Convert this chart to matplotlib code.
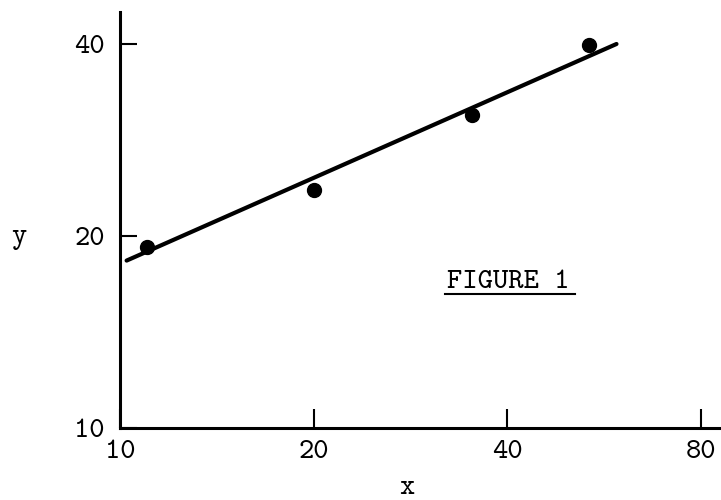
import numpy as np
import matplotlib.pyplot as plt
from matplotlib.ticker import FixedLocator, FixedFormatter, NullLocator
from matplotlib.lines import Line2D

# measured points
x_data = [11.0, 20.0, 35.3, 53.6]
y_data = [19.2, 23.6, 31.0, 39.8]

# fitted straight line (ends)
fit_x = [10.24, 59.1]
fit_y = [18.29, 40.0]

x_ticks = [10, 20, 40, 80]
y_ticks = [10, 20, 40]

# typewriter look
plt.rcParams['font.family'] = ['cmtt10', 'DejaVu Sans Mono']
plt.rcParams['axes.unicode_minus'] = False

fig = plt.figure(figsize=(7.21, 5.0), dpi=100)
ax = fig.add_axes([0.1664, 0.1446, 0.8336, 0.8314])

ax.plot(fit_x, fit_y, color='black', lw=3, solid_capstyle='round')
ax.plot(x_data, y_data, 'o', color='black', ms=10)

ax.set_xscale('log')
ax.set_yscale('log')
ax.set_xlim(10, 85.9)
ax.set_ylim(10, 44.9)

ax.xaxis.set_major_locator(FixedLocator(x_ticks))
ax.xaxis.set_major_formatter(FixedFormatter([str(t) for t in x_ticks]))
ax.xaxis.set_minor_locator(NullLocator())
ax.yaxis.set_major_locator(FixedLocator(y_ticks))
ax.yaxis.set_major_formatter(FixedFormatter([str(t) for t in y_ticks]))
ax.yaxis.set_minor_locator(NullLocator())

for s in ['top', 'right']:
    ax.spines[s].set_visible(False)
for s in ['left', 'bottom']:
    ax.spines[s].set_linewidth(2.2)

ax.tick_params(axis='x', direction='in', length=13.5, width=1.5, pad=9, labelsize=21)
ax.tick_params(axis='y', direction='in', length=12, width=1.5, pad=11, labelsize=21)

fig.text(407 / 721, 1 - 494 / 500, 'x', fontsize=21, fontweight='bold', ha='center', va='baseline')
fig.text(19 / 721, 1 - 238 / 500, 'y', fontsize=21, ha='center', va='center')

fig.text(508 / 721, 1 - 288 / 500, 'FIGURE 1', fontsize=21, ha='center', va='baseline')
fig.add_artist(Line2D([445 / 721, 575 / 721], [1 - 293.5 / 500, 1 - 293.5 / 500],
                      transform=fig.transFigure, color='black', lw=1.5))

fig.savefig('out.png', dpi=100)
